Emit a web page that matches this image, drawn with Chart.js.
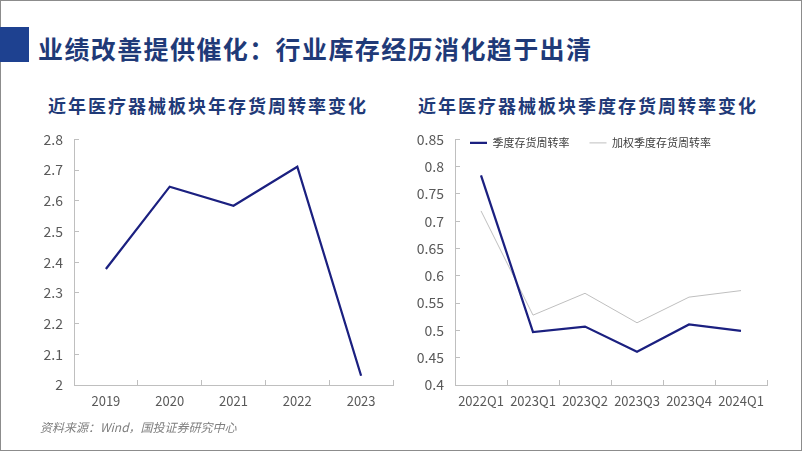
<!DOCTYPE html>
<html>
<head>
<meta charset="utf-8">
<script src="https://cdn.jsdelivr.net/npm/chart.js@4.4.1/dist/chart.umd.min.js"></script>
<style>
body { margin: 0; width: 802px; height: 451px; overflow: hidden; background: #fff; position: relative; font-family: "Noto Sans CJK SC", sans-serif; }
.frame { position: absolute; left: 0; top: 0; width: 802px; height: 451px; box-sizing: border-box; border: 1px solid #8c8c8c; }
.bar { position: absolute; left: 0; top: 27px; width: 29px; height: 35px; background: #1e4190; }
.main-title { position: absolute; left: 38px; top: 34px; font-size: 25px; line-height: 28px; font-weight: bold; color: #1f3a78; letter-spacing: 1.4px; white-space: nowrap; }
.sub-title { position: absolute; top: 95px; font-size: 18px; line-height: 20px; font-weight: bold; color: #1f3a78; letter-spacing: 2px; white-space: nowrap; }
.source { position: absolute; left: 40px; top: 420px; font-size: 12px; line-height: 14px; font-style: italic; color: #7f7f7f; white-space: nowrap; }
.box { position: absolute; top: 115px; height: 305px; }
canvas { display: block; }
</style>
</head>
<body>
<div class="frame"></div>
<div class="bar"></div>
<div class="main-title">业绩改善提供催化：行业库存经历消化趋于出清</div>
<div class="sub-title" style="left:48px">近年医疗器械板块年存货周转率变化</div>
<div class="sub-title" style="left:418px">近年医疗器械板块季度存货周转率变化</div>
<div class="box" style="left:0;width:400px"><canvas id="yearChart" width="400" height="305"></canvas></div>
<div class="box" style="left:400px;width:402px"><canvas id="quarterChart" width="402" height="305"></canvas></div>
<div class="source">资料来源：Wind，国投证券研究中心</div>

<script>
// annual inventory turnover
const years = ['2019', '2020', '2021', '2022', '2023'];
const yearTurnover = [2.378, 2.646, 2.584, 2.711, 2.030];

// quarterly inventory turnover
const quarters = ['2022Q1', '2023Q1', '2023Q2', '2023Q3', '2023Q4', '2024Q1'];
const quarterTurnover = [0.784, 0.497, 0.507, 0.461, 0.511, 0.499];
const weightedTurnover = [0.719, 0.528, 0.568, 0.514, 0.561, 0.573];

const navy = '#1b2080';
const axisGray = '#bfbfbf';

function xAxis(height) {
    return {
        offset: true,
        grid: { offset: true, drawOnChartArea: false, tickLength: -5, color: axisGray },
        border: { color: axisGray },
        ticks: {
            color: '#595959',
            font: { family: 'Noto Sans CJK SC', size: 13 },
            padding: 13,
            maxRotation: 0,
            autoSkip: false
        },
        afterFit: s => { s.height = height; }
    };
}

function yAxis(min, max, step, digits, width) {
    return {
        min: min,
        max: max,
        grid: { drawOnChartArea: false, tickLength: -5, color: axisGray },
        border: { color: axisGray },
        ticks: {
            stepSize: step,
            autoSkip: false,
            color: '#595959',
            font: { family: 'Noto Sans CJK SC', size: 14 },
            padding: 16,
            callback: v => String(+v.toFixed(digits))
        },
        afterFit: s => { s.width = width; }
    };
}

// pull the legend down into the plot area, like the original
const legendInside = {
    id: 'legendInside',
    afterLayout(chart) {
        const lg = chart.legend;
        if (!lg || !lg.options.display) return;
        const pad = lg.options.labels.padding;
        const h = lg.height;
        lg.left = chart.chartArea.left + 15 - pad;
        lg.top = chart.chartArea.top - 2 - pad;
        lg.bottom = lg.top + h;
    }
};

new Chart(document.getElementById('yearChart'), {
    type: 'line',
    data: {
        labels: years,
        datasets: [{
            label: '年存货周转率',
            data: yearTurnover,
            borderColor: navy,
            borderWidth: 2.25,
            pointRadius: 0,
            tension: 0
        }]
    },
    options: {
        responsive: false,
        animation: false,
        layout: { padding: { top: 23, right: 7, left: 0, bottom: 0 } },
        plugins: { legend: { display: false }, tooltip: { enabled: false } },
        scales: {
            x: xAxis(35),
            y: yAxis(2, 2.8, 0.1, 1, 74)
        }
    }
});

new Chart(document.getElementById('quarterChart'), {
    type: 'line',
    data: {
        labels: quarters,
        datasets: [{
            label: '季度存货周转率',
            data: quarterTurnover,
            borderColor: navy,
            backgroundColor: navy,
            borderWidth: 2.25,
            pointRadius: 0,
            tension: 0
        }, {
            label: '加权季度存货周转率',
            data: weightedTurnover,
            borderColor: axisGray,
            backgroundColor: axisGray,
            borderWidth: 1,
            pointRadius: 0,
            tension: 0
        }]
    },
    options: {
        responsive: false,
        animation: false,
        layout: { padding: { top: -18, right: 35, left: 0, bottom: 0 } },
        plugins: {
            tooltip: { enabled: false },
            legend: {
                position: 'top',
                align: 'start',
                labels: {
                    usePointStyle: true,
                    pointStyle: 'line',
                    pointStyleWidth: 17,
                    padding: 20,
                    color: '#404040',
                    font: { family: 'Noto Sans CJK SC', size: 11 }
                }
            }
        },
        scales: {
            x: xAxis(35),
            y: yAxis(0.4, 0.85, 0.05, 2, 55)
        }
    },
    plugins: [legendInside]
});
</script>
</body>
</html>
